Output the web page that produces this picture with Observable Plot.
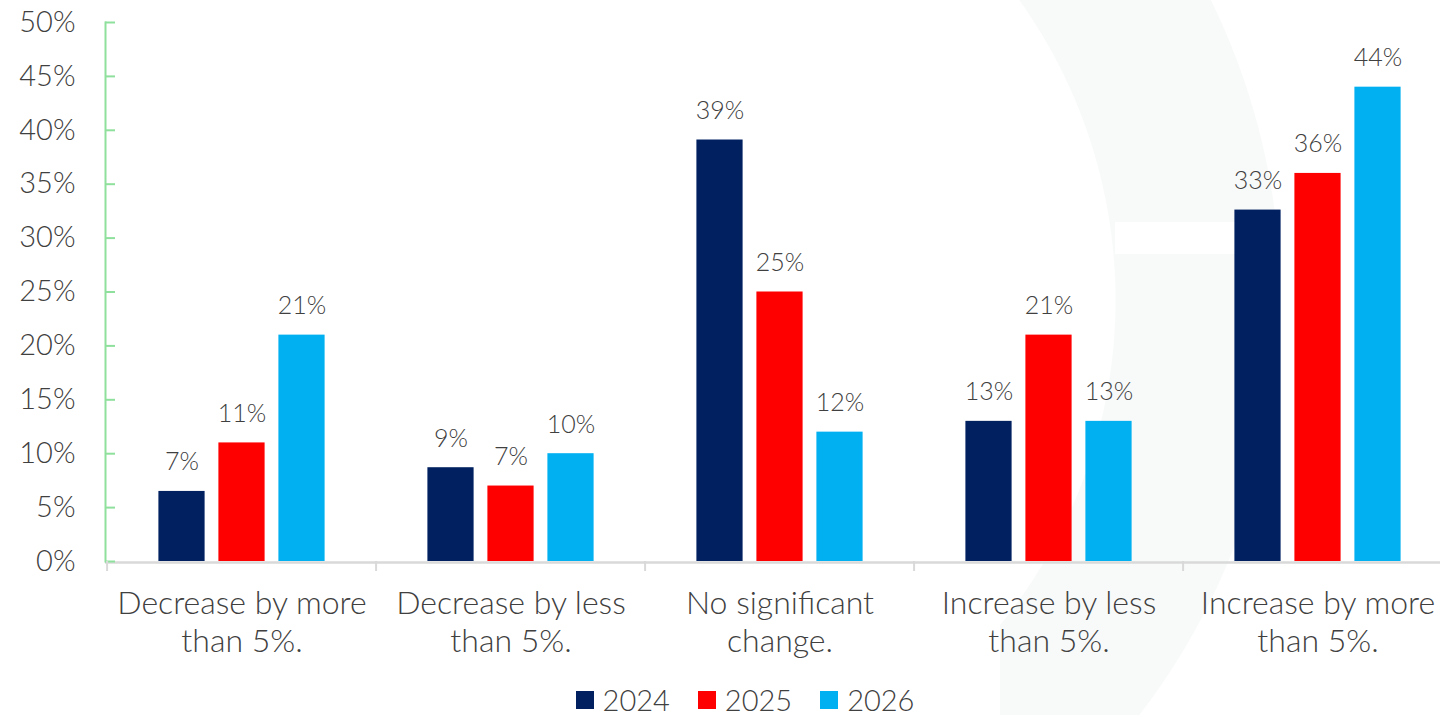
<!DOCTYPE html>
<html><head><meta charset="utf-8">
<script src="https://cdn.jsdelivr.net/npm/d3@7"></script>
<script src="https://cdn.jsdelivr.net/npm/@observablehq/plot@0.6"></script>
<style>
body{margin:0;background:#fff;overflow:hidden;font-family:Lato,"Noto Sans",sans-serif;font-weight:300;}
#wrap{position:relative;width:1440px;height:715px;overflow:hidden;}
#wm{position:absolute;left:1000px;top:0;width:440px;height:715px;
  background:radial-gradient(circle at -400px 300px, rgba(248,249,249,0) 515px, #f8f9f9 516px, #f8f9f9 680px, rgba(248,249,249,0) 681px);}
#stripe{position:absolute;left:1115px;top:222px;width:200px;height:32px;background:#fff;}
#chart{position:absolute;left:0;top:0;}
#chart svg{overflow:visible;}
.legend{position:absolute;top:687px;left:0;width:1440px;display:flex;justify-content:center;align-items:center;font-size:29px;line-height:26px;color:#404040;padding-left:50px;box-sizing:border-box;}
.legend .item{display:flex;align-items:center;margin:0 14px;}
.legend .sw{width:18px;height:18px;margin-right:9px;}
</style></head>
<body><div id="wrap"><div id="wm"></div><div id="stripe"></div><div id="chart"></div><div class="legend" id="legend"></div></div>
<script>
const categories = ["Decrease by more than 5%.","Decrease by less than 5%.","No significant change.","Increase by less than 5%.","Increase by more than 5%."];
const tickLabels = ["Decrease by more\nthan 5%.","Decrease by less\nthan 5%.","No significant\nchange.","Increase by less\nthan 5%.","Increase by more\nthan 5%."];
const years = ["2024","2025","2026"];
const v2024 = [6.5, 8.7, 39.1, 13, 32.6];
const v2025 = [11, 7, 25, 21, 36];
const v2026 = [21, 10, 12, 13, 44];
const colors = ["#002060","#ff0000","#00b0f0"];
const yTicks = [0,5,10,15,20,25,30,35,40,45,50];

const series = [v2024, v2025, v2026];
const rows = [];
years.forEach((y, i) => categories.forEach((c, j) => rows.push({year: y, category: c, value: series[i][j]})));

const W = 1440, H = 680, mL = 105, mR = -14;
const band = (W - mR - mL) / categories.length;
const barW = 47, step = 60, inset = (band - barW) / 2;
const textColor = "#404040", green = "#8fe09c", gray = "#d9d9d9";

const marks = [
  Plot.ruleY([0], {stroke: gray, strokeWidth: 2.5, dy: 1}),
  Plot.frame({anchor: "left", stroke: green, strokeWidth: 2}),
  Plot.axisY({ticks: yTicks, tickSize: 10, dx: 10, text: null, stroke: green, strokeWidth: 2, label: null}),
  Plot.axisY({ticks: yTicks, tickSize: 0, tickPadding: 30, tickFormat: d => d + "%", fontSize: 29, fill: textColor, label: null}),
  Plot.axisX({tickSize: 10, dx: -band / 2, text: null, stroke: gray, strokeWidth: 2, label: null}),
  Plot.axisX({tickSize: 0, tickPadding: 25, tickFormat: d => tickLabels[categories.indexOf(d)], fontSize: 32, lineHeight: 1.2, fill: textColor, label: null})
];
years.forEach((yr, i) => {
  const data = rows.filter(r => r.year === yr);
  marks.push(Plot.barY(data, {x: "category", y: "value", fill: "year", dx: (i - 1) * step, insetLeft: inset, insetRight: inset}));
  marks.push(Plot.text(data, {x: "category", y: "value", text: d => Math.round(d.value) + "%", dx: (i - 1) * step, dy: -21, lineAnchor: "bottom", fontSize: 25, fill: textColor}));
});

const plot = Plot.plot({
  width: W, height: H,
  marginLeft: mL, marginRight: mR, marginTop: 22, marginBottom: H - 561,
  style: {fontFamily: "Lato, 'Noto Sans', sans-serif", fontWeight: 300, background: "transparent"},
  x: {domain: categories, padding: 0, axis: null},
  y: {domain: [0, 50], axis: null},
  color: {domain: years, range: colors},
  marks
});
document.getElementById("chart").appendChild(plot);

const legend = document.getElementById("legend");
years.forEach((y, i) => {
  const it = document.createElement("div"); it.className = "item";
  const sw = document.createElement("div"); sw.className = "sw"; sw.style.background = colors[i];
  const tx = document.createElement("span"); tx.textContent = y;
  it.appendChild(sw); it.appendChild(tx); legend.appendChild(it);
});
</script></body></html>
